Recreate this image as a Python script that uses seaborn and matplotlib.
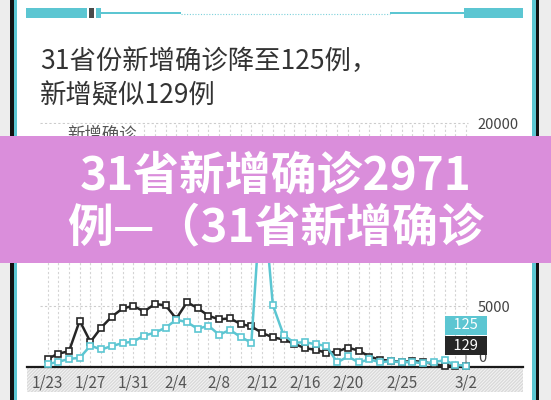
import numpy as np
import pandas as pd
import matplotlib
matplotlib.use("Agg")
import matplotlib.pyplot as plt
import matplotlib.transforms as mtransforms
from matplotlib.patches import Rectangle
import seaborn as sns

# ---------------- data ----------------
dates = [d.strftime("%-m/%-d") for d in pd.date_range("2020-01-23", "2020-03-02")]
confirmed = [259, 444, 688, 769, 1771, 1459, 1737, 1982, 2102, 2590,
             2829, 3235, 3887, 3694, 3143, 3399, 2656, 3062, 2478, 2015,
             15152, 5090, 2641, 2009, 2048, 1886, 1749, 394, 889, 397,
             648, 409, 508, 406, 433, 327, 427, 573, 202, 125]
suspected = [680, 1118, 1309, 3806, 2077, 3248, 4148, 4812, 5019, 4562,
             5173, 5072, 3971, 5328, 4833, 4214, 3916, 4008, 3536, 3342,
             2807, 2450, 2277, 1918, 1563, 1432, 1185, 1277, 1614, 1361,
             882, 620, 530, 439, 508, 452, 248, 132, 141, 129]
xtick_labels = ["1/23", "1/27", "1/31", "2/4", "2/8", "2/12", "2/16", "2/20", "2/25", "3/2"]
ytick_values = [0, 5000, 20000]
grid_values = [5000, 10000, 15000, 20000]
series_names = ["新增确诊", "新增疑似"]
title_lines = ["31省份新增确诊降至125例，", "新增疑似129例"]
banner_lines = ["31省新增确诊2971", "例—（31省新增确诊"]

TEAL = "#5cc6d2"
BLACK = "#262626"

sns.set_theme(style="white")
plt.rcParams["font.family"] = ["Noto Sans CJK SC", "DejaVu Sans"]

W, H = 551, 400
fig = plt.figure(figsize=(W / 100, H / 100), dpi=100)
fig.patch.set_facecolor("white")

def frect(x0, y0, x1, y1, color, z=1, **kw):
    fig.add_artist(Rectangle((x0 / W, 1 - y1 / H), (x1 - x0) / W, (y1 - y0) / H,
                             transform=fig.transFigure, facecolor=color,
                             edgecolor="none", zorder=z, **kw))

# phone frame
frect(0, 0, 10, 400, "#ededed")
frect(10, 0, 13.5, 400, "#111111")
frect(13.5, 0, 17, 400, TEAL)
frect(539, 0, 551, 400, "#ededed")
frect(535.5, 0, 539, 400, "#111111")
frect(532, 0, 535.5, 400, TEAL)

# top decoration
frect(26, 8, 87, 18, TEAL)
frect(89, 8, 94, 18, "#4a4a4a")
frect(96, 8, 101, 18, TEAL)
frect(101, 12, 181, 13.5, TEAL)
fig.add_artist(plt.Line2D([181 / W, 390 / W], [1 - 13.5 / H, 1 - 13.5 / H],
                          transform=fig.transFigure, color=TEAL, lw=0.8,
                          linestyle=(0, (1, 1.5)), alpha=0.8))
frect(390, 12, 464, 13.5, TEAL)
frect(464, 8, 523, 18, TEAL)

# title
for k, line in enumerate(title_lines):
    fig.text(40 / W, 1 - (61.5 + 35 * k) / H, line, fontsize=19, color="#333333",
             ha="left", va="center")

# ---------------- chart ----------------
base_px, top_px = 367.3, 110
ax = fig.add_axes([27 / W, 1 - base_px / H, (523 - 27) / W, (base_px - top_px) / H])
ax.set_facecolor("none")
px_per_day = 10.73
ax.set_xlim((27 - 47.5) / px_per_day, (523 - 47.5) / px_per_day)
ax.set_ylim(0, (base_px - top_px) / 12.23 * 1000)

days = np.arange(len(dates))
# grid
ax.vlines(days, 0, grid_values[-1], colors="#d4d4d4", linestyles=(0, (2, 2)), lw=0.8, zorder=0)
ax.hlines(grid_values, -0.7, len(dates) - 0.8, colors="#cccccc",
          linestyles=(0, (2, 2)), lw=0.8, zorder=0)

# legend box (white)
ax.add_patch(Rectangle((0.028, 0.70), 0.2, 0.245, transform=ax.transAxes,
                       facecolor="white", edgecolor="none", zorder=0.5))
ax.text(0.0806, 0.905, series_names[0], transform=ax.transAxes, fontsize=12.5,
        color="#555555", ha="left", va="center", zorder=3)

df = pd.DataFrame({
    "day": np.concatenate([days, days]),
    "value": suspected + confirmed,
    "series": [series_names[1]] * len(days) + [series_names[0]] * len(days),
})
for name, col in [(series_names[1], BLACK), (series_names[0], TEAL)]:
    sns.lineplot(data=df[df.series == name], x="day", y="value", ax=ax, color=col,
                 linewidth=1.8, marker="s", markersize=5, markerfacecolor="white",
                 markeredgecolor=col, markeredgewidth=1.2, legend=False,
                 zorder=3, clip_on=False)

# x axis
tick_pos = [dates.index(t) for t in xtick_labels]
ax.set_xticks(tick_pos)
ax.set_xticklabels(xtick_labels)
ax.tick_params(axis="x", length=0, pad=5, labelsize=11, labelcolor="#555555")
ax.set_yticks([])
ax.set_xlabel("")
ax.set_ylabel("")
for s in ["left", "right", "top"]:
    ax.spines[s].set_visible(False)
ax.spines["bottom"].set_color("#1a1a1a")
ax.spines["bottom"].set_linewidth(1.6)

band_h = (392 - base_px) / (base_px - top_px)
ax.add_patch(Rectangle((0, -band_h), 1, band_h, transform=ax.transAxes, clip_on=False,
                       facecolor="#f4f4f4", edgecolor="#dadada", linewidth=0,
                       hatch="//////////", zorder=0.5))

# y labels (right, inside)
trans = mtransforms.blended_transform_factory(ax.transAxes, ax.transData)
for v in ytick_values:
    off = 6.5 if v == 0 else -1.5
    ax.annotate(f"{v}", xy=(0.909, v), xycoords=trans, xytext=(0, off),
                textcoords="offset points", fontsize=10.5, color="#444444",
                ha="left", va="center")

# end labels
ax.annotate(f"  {confirmed[-1]}  ", xy=(days[-1], confirmed[-1]), xytext=(0, 29),
            textcoords="offset points", ha="center", va="center", fontsize=10.5,
            color="white", bbox=dict(boxstyle="square,pad=0.15", fc=TEAL, ec="none"),
            zorder=4)
ax.annotate(f"  {suspected[-1]}  ", xy=(days[-1], suspected[-1]), xytext=(0, 14.5),
            textcoords="offset points", ha="center", va="center", fontsize=10.5,
            color="white", bbox=dict(boxstyle="square,pad=0.15", fc=BLACK, ec="none"),
            arrowprops=dict(arrowstyle="-", color="#777777", lw=0.8, shrinkA=0, shrinkB=2),
            zorder=4)

# ---------------- banner ----------------
frect(0, 136, 551, 263, "#da8edb", z=10)
for k, line in enumerate(banner_lines):
    fig.text(0.5, 1 - (177 + 51 * k) / H, line, fontsize=33, fontweight="black",
             color="white", ha="center", va="center", zorder=11)

fig.savefig("out.png", dpi=100)
